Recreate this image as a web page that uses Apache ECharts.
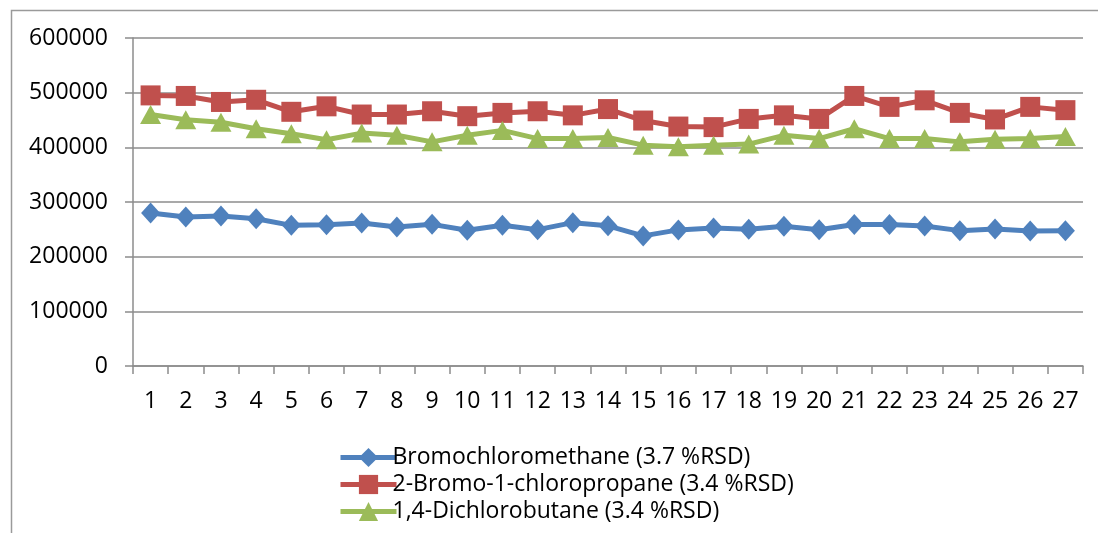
<!DOCTYPE html>
<html>
<head>
<meta charset="utf-8">
<script src="https://cdn.jsdelivr.net/npm/echarts@6/dist/echarts.min.js"></script>
<style>
html,body{margin:0;padding:0;background:#fff;}
#chart{width:1098px;height:533px;}
</style>
</head>
<body>
<div id="chart"></div>
<script>
const categories = ['1','2','3','4','5','6','7','8','9','10','11','12','13','14','15','16','17','18','19','20','21','22','23','24','25','26','27'];
const bromochloromethane = [280000,272600,274400,269500,257300,258500,261600,254300,259100,248200,257300,249400,262200,256500,238000,249000,252400,250000,255500,249400,259000,259000,256000,247600,250600,247000,247600];
const bromochloropropane = [495000,494000,483000,487000,465000,475000,460000,460000,466000,457000,463000,466000,458500,470000,449000,438000,437000,452000,458500,452000,494000,474000,486000,463000,451000,474000,468000];
const dichlorobutane = [460000,450600,446000,434000,425000,414000,426000,422000,410000,422000,431000,416000,416000,418000,404000,401000,404000,406000,422000,416000,434000,416000,416000,410000,415000,416000,420000];
const seriesNames = ['Bromochloromethane (3.7 %RSD)','2-Bromo-1-chloropropane (3.4 %RSD)','1,4-Dichlorobutane (3.4 %RSD)'];
const yTicks = {min:0, max:600000, interval:100000};

const font = '"Open Sans", "Noto Sans", sans-serif';
const gray = '#8c8c8c';
const chart = echarts.init(document.getElementById('chart'));
chart.setOption({
  animation:false,
  backgroundColor:'#fff',
  graphic:[{type:'rect', left:9, top:8, shape:{x:0,y:0,width:1300,height:700}, style:{fill:'none', stroke:'#9a9a9a', lineWidth:1.5}, silent:true}],
  grid:{left:133, right:15, top:38, bottom:533-366, containLabel:false},
  xAxis:{
    type:'category', data:categories, boundaryGap:true,
    axisLine:{lineStyle:{color:gray, width:1.5}},
    axisTick:{show:true, length:8, lineStyle:{color:gray, width:1.5}},
    axisLabel:{color:'#000', fontFamily:font, fontSize:23, margin:24, interval:0}
  },
  yAxis:{
    type:'value', min:yTicks.min, max:yTicks.max, interval:yTicks.interval,
    axisLine:{show:true, lineStyle:{color:gray, width:1.5}},
    axisTick:{show:true, length:8, lineStyle:{color:gray, width:1.5}},
    splitLine:{lineStyle:{color:gray, width:1.5}},
    axisLabel:{color:'#000', fontFamily:font, fontSize:23, margin:25, formatter:function(v){return String(v);}}
  },
  legend:{
    orient:'vertical', left:333, top:441, itemWidth:56, itemHeight:24, itemGap:4,
    lineStyle:{width:5},
    textStyle:{color:'#000', fontFamily:font, fontSize:23, padding:[0,0,0,-9]},
    data:seriesNames
  },
  series:[
    {name:seriesNames[0], type:'line', data:bromochloromethane, symbol:'diamond', symbolSize:[19,21],
     itemStyle:{color:'#4F81BD'}, lineStyle:{color:'#4F81BD', width:5}},
    {name:seriesNames[1], type:'line', data:bromochloropropane, symbol:'rect', symbolSize:20,
     itemStyle:{color:'#C0504D'}, lineStyle:{color:'#C0504D', width:5}},
    {name:seriesNames[2], type:'line', data:dichlorobutane, symbol:'triangle', symbolSize:[21,19],
     itemStyle:{color:'#9BBB59'}, lineStyle:{color:'#9BBB59', width:5}}
  ]
});
</script>
</body>
</html>
